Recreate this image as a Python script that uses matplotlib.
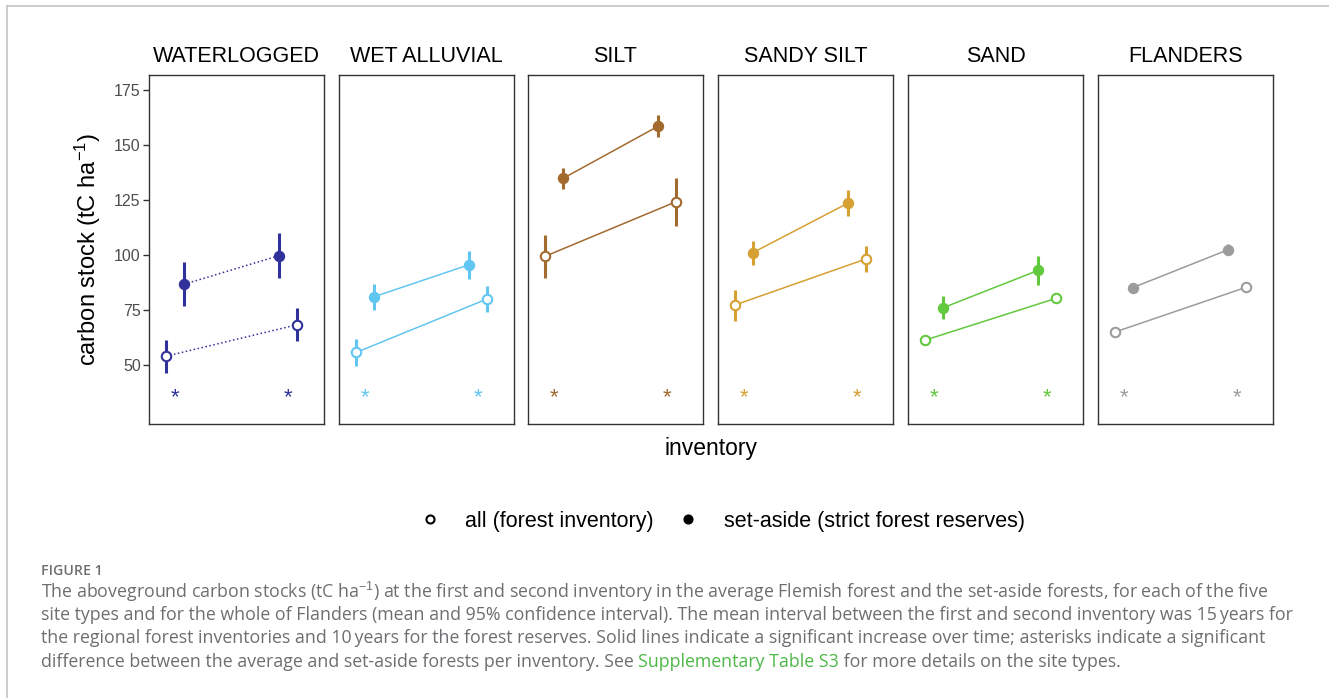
import matplotlib
matplotlib.use("Agg")
import matplotlib.pyplot as plt
from matplotlib.lines import Line2D
import numpy as np

# ---------------- data ----------------
panels = ["WATERLOGGED", "WET ALLUVIAL", "SILT", "SANDY SILT", "SAND", "FLANDERS"]
colors = ["#30319A", "#62C6F2", "#A36A30", "#D6A033", "#62C93F", "#9C9C9C"]
inventories = [1, 2]

all_mean = [[54.0, 68.3], [55.7, 80.0], [99.4, 124.2], [77.3, 98.2], [61.3, 80.3], [65.0, 85.3]]
all_lo = [[46.4, 60.8], [49.7, 74.2], [89.7, 113.3], [70.0, 92.1], [60.3, 79.3], [64.2, 84.5]]
all_hi = [[61.4, 76.0], [61.8, 85.8], [109.0, 134.8], [84.2, 104.2], [62.3, 81.3], [65.8, 86.1]]

sa_mean = [[86.7, 99.7], [81.0, 95.6], [134.8, 158.5], [101.1, 123.6], [76.0, 93.0], [85.2, 102.4]]
sa_lo = [[76.7, 89.7], [74.8, 88.9], [130.0, 153.5], [95.6, 117.9], [71.0, 86.4], [83.2, 99.9]]
sa_hi = [[96.7, 109.8], [86.9, 102.0], [139.4, 163.6], [106.5, 129.5], [81.5, 99.7], [87.2, 104.9]]

significant_increase = [False, True, True, True, True, True]
significant_diff = [[True, True]] * 6
star_level = 37.8

yticks = [50, 75, 100, 125, 150, 175]

legend_labels = ["all (forest inventory)", "set-aside (strict forest reserves)"]

caption_title = "FIGURE 1"
caption_lines = [
    "The aboveground carbon stocks (tC ha$^{-1}$) at the first and second inventory in the average Flemish forest and the set-aside forests, for each of the five",
    "site types and for the whole of Flanders (mean and 95% confidence interval). The mean interval between the first and second inventory was 15\u2009years for",
    "the regional forest inventories and 10\u2009years for the forest reserves. Solid lines indicate a significant increase over time; asterisks indicate a significant",
]
caption_last = ["difference between the average and set-aside forests per inventory. See ",
                "Supplementary Table S3",
                " for more details on the site types."]

# ---------------- layout ----------------
W, H = 1329, 698
plt.rcParams['font.family'] = ['Liberation Sans', 'DejaVu Sans']
plt.rcParams['mathtext.fontset'] = 'custom'
plt.rcParams['mathtext.rm'] = 'Liberation Sans'
plt.rcParams['mathtext.it'] = 'Liberation Sans'
fig = plt.figure(figsize=(W / 100, H / 100), dpi=100)


def fx(px):
    return px / W


def fy(py):
    return 1 - py / H


lefts = [149, 339, 528, 718, 908, 1098]
pw = 175
ptop, pbot = 75, 424
ylim = (23.2, 181.8)
xlim = (0.870, 2.206)
inset = 0.137   # set-aside interval is shorter, drawn inside the "all" interval
x = np.array(inventories, dtype=float)
xa = x
xs = x + np.array([inset, -inset])
xstar = (xa + xs) / 2

axes = []
for i, name in enumerate(panels):
    ax = fig.add_axes([fx(lefts[i]), fy(pbot), pw / W, (pbot - ptop) / H])
    axes.append(ax)
    c = colors[i]
    ls = '-' if significant_increase[i] else ':'
    # connecting lines
    ax.plot(xa, all_mean[i], color=c, lw=1.1, ls=ls, zorder=2)
    ax.plot(xs, sa_mean[i], color=c, lw=1.1, ls=ls, zorder=2)
    # error bars
    ax.vlines(xa, all_lo[i], all_hi[i], color=c, lw=2.2, zorder=3)
    ax.vlines(xs, sa_lo[i], sa_hi[i], color=c, lw=2.2, zorder=3)
    # markers
    ax.plot(xa, all_mean[i], ls='none', marker='o', ms=6.8, mfc='white', mec=c, mew=1.5, zorder=4)
    ax.plot(xs, sa_mean[i], ls='none', marker='o', ms=7.2, mfc=c, mec=c, mew=1.0, zorder=4)
    # asterisks
    for k, xv in enumerate(xstar):
        if significant_diff[i][k]:
            ax.annotate('*', xy=(xv, star_level), xytext=(0, -8.5), textcoords='offset points',
                        ha='center', va='baseline', color=c, fontsize=16)
    ax.set_xlim(*xlim)
    ax.set_ylim(*ylim)
    ax.set_xticks([])
    for s in ax.spines.values():
        s.set_color('#333333')
        s.set_linewidth(1.0)
    if i == 0:
        ax.set_yticks(yticks)
        ax.tick_params(axis='y', length=4, width=1.0, color='#333333', labelcolor='#4D4D4D',
                       labelsize=11.5, pad=2)
    else:
        ax.set_yticks([])
    ax.set_title(name, fontsize=15.5, color='black', pad=9)

fig.text(fx(88), fy((ptop + pbot) / 2), "carbon stock (tC ha$^{-1}$)", rotation=90,
         ha='center', va='center', fontsize=17)
fig.text(fx(711), fy(448), "inventory", ha='center', va='center', fontsize=16.5)

handles = [Line2D([], [], ls='none', marker='o', ms=5.8, mfc='white', mec='black', mew=1.5),
           Line2D([], [], ls='none', marker='o', ms=6.3, mfc='black', mec='black')]
fig.legend(handles, legend_labels,
           loc='center', bbox_to_anchor=(fx(722), fy(521)), ncol=2, frameon=False,
           fontsize=15.5, handlelength=1.0, handletextpad=1.13, columnspacing=1.1)

# frame lines
fig.add_artist(Line2D([fx(7), 1], [fy(6), fy(6)], transform=fig.transFigure, color='#c4c4c4', lw=1.2))
fig.add_artist(Line2D([fx(7), fx(7)], [fy(6), 0], transform=fig.transFigure, color='#c4c4c4', lw=1.2))

# caption
cap_font = ['Open Sans', 'DejaVu Sans']
cap_color = '#6D6E71'
cx0 = 41
fig.text(fx(cx0), fy(571), caption_title, fontsize=10.2, fontweight='semibold', color=cap_color,
         family=cap_font, ha='left', va='center')

renderer = fig.canvas.get_renderer()
# fit font size so that line 2 ends at x = 1295 px
probe = fig.text(fx(cx0), fy(615), caption_lines[1], fontsize=11, family=cap_font)
wpx = probe.get_window_extent(renderer).width
probe.remove()
cap_fs = 11 * (1295 - cx0) / wpx

line_y = [592, 615, 638, 662]
for ln, yy in zip(caption_lines, line_y[:3]):
    fig.text(fx(cx0), fy(yy), ln, fontsize=cap_fs, family=cap_font, color=cap_color,
             ha='left', va='center')

xcur = cx0
for j, part in enumerate(caption_last):
    col = '#4DB848' if j == 1 else cap_color
    t = fig.text(fx(xcur), fy(line_y[3]), part, fontsize=cap_fs, family=cap_font, color=col,
                 ha='left', va='center')
    bb = t.get_window_extent(renderer)
    xcur = bb.x1

fig.savefig("out.png", dpi=100)
